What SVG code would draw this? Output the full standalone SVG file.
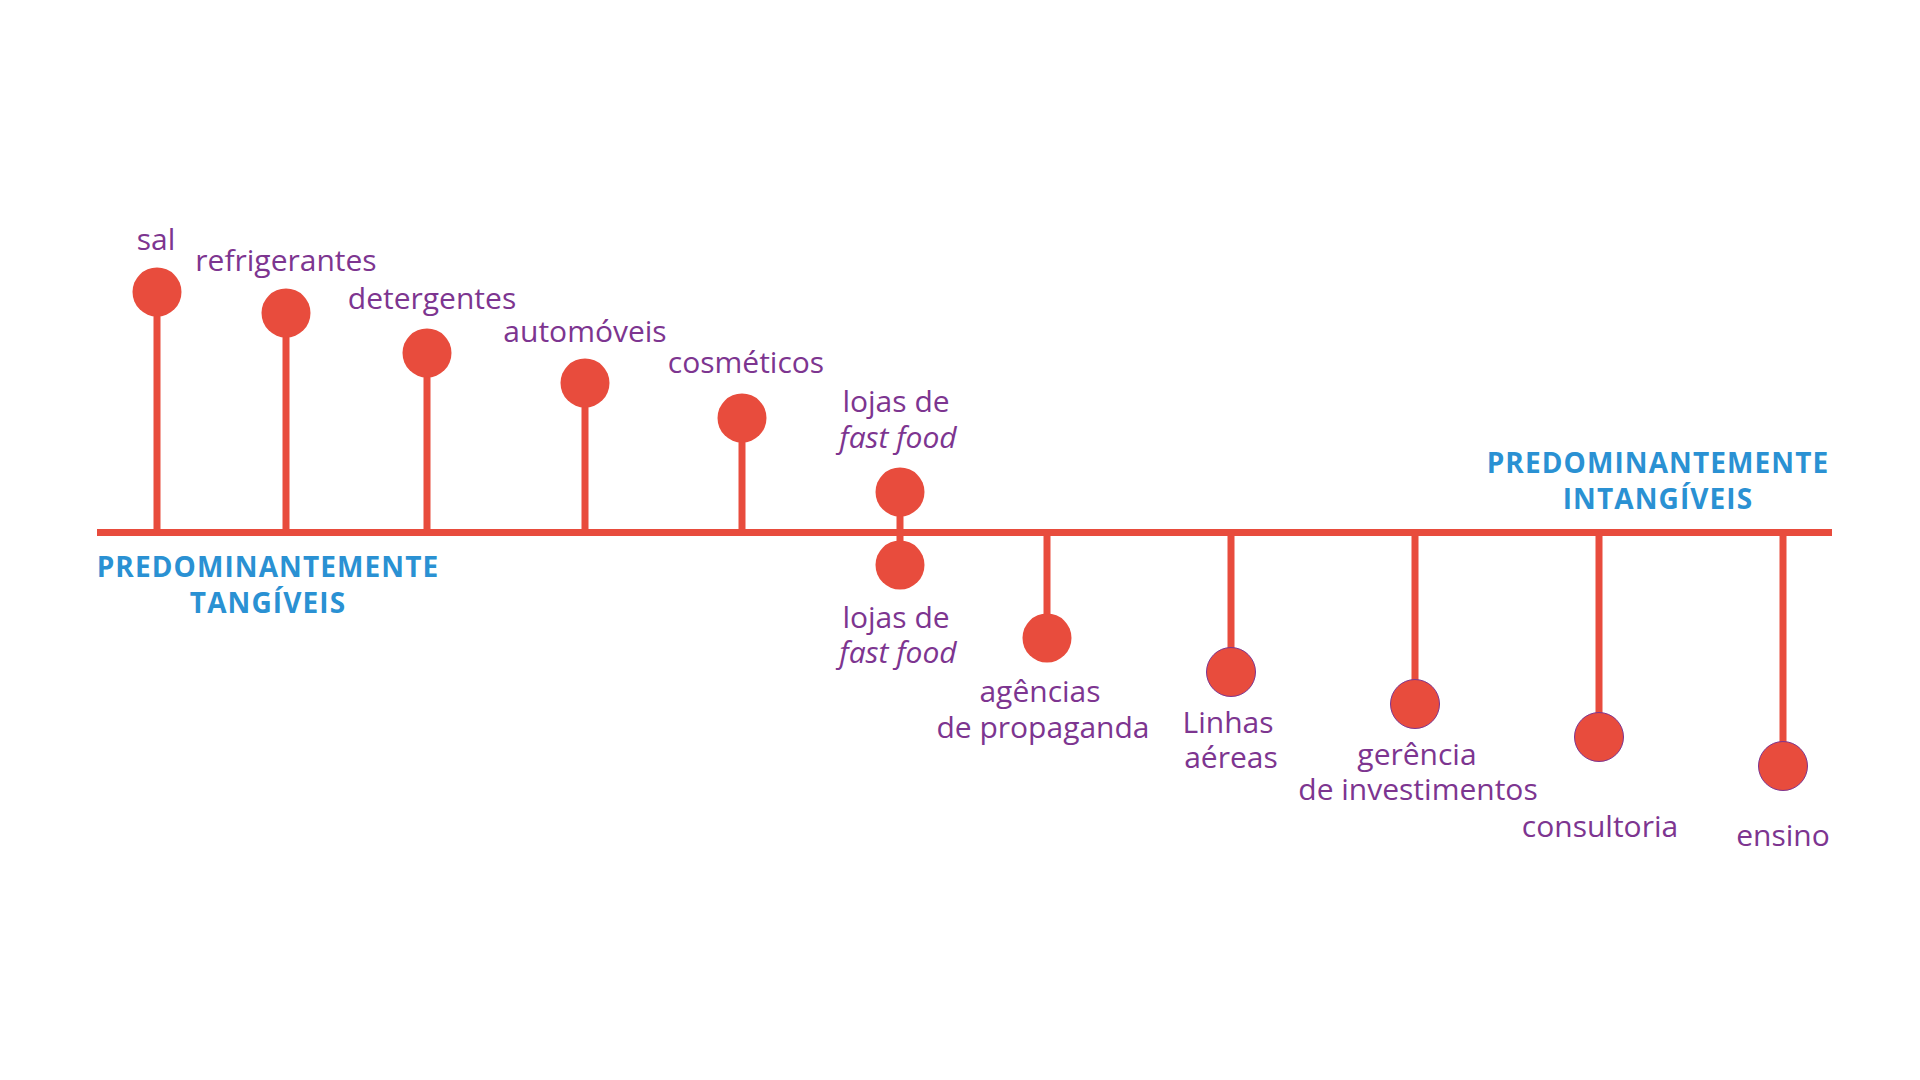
<svg xmlns="http://www.w3.org/2000/svg" width="1920" height="1080" viewBox="0 0 1920 1080">
<style>
.stem{stroke:#E84C3D;stroke-width:7;fill:none}
.dot{fill:#E84C3D}
.dotb{fill:#E84C3D;stroke:#7D3590;stroke-width:1}
.lbl{font-family:"Open Sans","Liberation Sans",sans-serif;font-size:30px;fill:#7D3590;text-anchor:middle}
.it{font-style:italic}
.hdr{font-family:"Open Sans","Liberation Sans",sans-serif;font-size:28px;font-weight:bold;fill:#2A91D3;text-anchor:middle;letter-spacing:1.1px}
</style>
<rect width="1920" height="1080" fill="#ffffff"/>
<g id="connectors">
<line class="stem" x1="97" y1="532.5" x2="1832" y2="532.5" stroke-width="7.5"/>
<line class="stem" x1="157" y1="292" x2="157" y2="532"/>
<line class="stem" x1="286" y1="313" x2="286" y2="532"/>
<line class="stem" x1="427" y1="353" x2="427" y2="532"/>
<line class="stem" x1="585" y1="383" x2="585" y2="532"/>
<line class="stem" x1="742" y1="418" x2="742" y2="532"/>
<line class="stem" x1="900" y1="492" x2="900" y2="565"/>
<line class="stem" x1="1047" y1="532" x2="1047" y2="638"/>
<line class="stem" x1="1231" y1="532" x2="1231" y2="672"/>
<line class="stem" x1="1415" y1="532" x2="1415" y2="704"/>
<line class="stem" x1="1599" y1="532" x2="1599" y2="737"/>
<line class="stem" x1="1783" y1="532" x2="1783" y2="766"/>
</g>
<g id="hdr-tangiveis">
<text class="hdr" x="268" y="577">PREDOMINANTEMENTE</text>
<text class="hdr" x="268" y="613">TANGÍVEIS</text>
</g>
<g id="hdr-intangiveis">
<text class="hdr" x="1658" y="473">PREDOMINANTEMENTE</text>
<text class="hdr" x="1658" y="509">INTANGÍVEIS</text>
</g>
<g id="sal"><circle class="dot" cx="157" cy="292" r="24.5"/><text class="lbl" x="156" y="250">sal</text></g>
<g id="refrigerantes"><circle class="dot" cx="286" cy="313" r="24.5"/><text class="lbl" x="286" y="271">refrigerantes</text></g>
<g id="detergentes"><circle class="dot" cx="427" cy="353" r="24.5"/><text class="lbl" x="432" y="309">detergentes</text></g>
<g id="automoveis"><circle class="dot" cx="585" cy="383" r="24.5"/><text class="lbl" x="585" y="342">automóveis</text></g>
<g id="cosmeticos"><circle class="dot" cx="742" cy="418" r="24.5"/><text class="lbl" x="746" y="373">cosméticos</text></g>
<g id="fastfood-top"><circle class="dot" cx="900" cy="492" r="24.5"/><text class="lbl" x="896" y="412">lojas de</text><text class="lbl it" x="898" y="448">fast food</text></g>
<g id="fastfood-bottom"><circle class="dot" cx="900" cy="565" r="24.5"/><text class="lbl" x="896" y="628">lojas de</text><text class="lbl it" x="898" y="663">fast food</text></g>
<g id="agencias"><circle class="dot" cx="1047" cy="638" r="24.5"/><text class="lbl" x="1040" y="702">agências</text><text class="lbl" x="1043" y="738">de propaganda</text></g>
<g id="linhas"><circle class="dotb" cx="1231" cy="672" r="24.5"/><text class="lbl" x="1228" y="733">Linhas</text><text class="lbl" x="1231" y="768">aéreas</text></g>
<g id="gerencia"><circle class="dotb" cx="1415" cy="704" r="24.5"/><text class="lbl" x="1417" y="765">gerência</text><text class="lbl" x="1418" y="800">de investimentos</text></g>
<g id="consultoria"><circle class="dotb" cx="1599" cy="737" r="24.5"/><text class="lbl" x="1600" y="837">consultoria</text></g>
<g id="ensino"><circle class="dotb" cx="1783" cy="766" r="24.5"/><text class="lbl" x="1783" y="846">ensino</text></g>
</svg>
